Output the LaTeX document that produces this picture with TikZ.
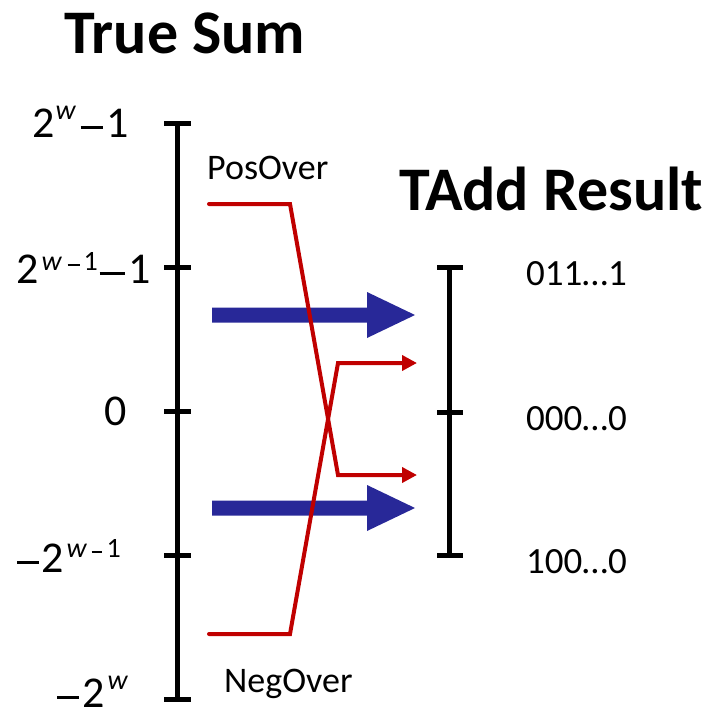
\documentclass[tikz,border=0pt]{standalone}
\usepackage{fontspec}
\setmainfont{Carlito}
\usetikzlibrary{arrows.meta}
\definecolor{arrowblue}{RGB}{40,40,152}
\definecolor{overred}{RGB}{192,0,0}
\newcommand{\supx}[2]{\raisebox{#1}{\fontsize{28}{28}\selectfont #2}}
\newcommand{\mainminus}[1]{\rule[8pt]{#1}{3pt}}
\newcommand{\supminus}[1]{\rule[4pt]{#1}{2.2pt}}
\begin{document}
\begin{tikzpicture}[x=1pt,y=-1pt,
  axisline/.style={line width=5pt, black},
  ticktxt/.style={anchor=base west, inner sep=0pt, font=\fontsize{44}{50}\selectfont},
  codetxt/.style={anchor=base west, inner sep=0pt, font=\fontsize{37}{40}\selectfont},
  titletxt/.style={anchor=base west, inner sep=0pt, font=\fontsize{62}{70}\selectfont\bfseries},
  overtxt/.style={anchor=base west, inner sep=0pt, font=\fontsize{36}{40}\selectfont},
  redline/.style={line width=4pt, overred, line cap=round, line join=miter, -{Triangle[length=15pt,width=15pt]}},
  bigarrow/.style={fill=arrowblue}]
\useasboundingbox (0,0) rectangle (718,715);
% titles
\node[titletxt] (t1) at (64,53) {True Sum};
\node[titletxt] (t2) at (399,210) {TAdd Result};
% left axis
\draw[axisline] (177,123) -- (177,699);
\foreach \yy in {123,267,411,555,699}{\draw[axisline] (164,\yy) -- (191,\yy);}
% right axis
\draw[axisline] (449,267) -- (449,555);
\foreach \yy in {267,412,555}{\draw[axisline] (437,\yy) -- (463,\yy);}
% left labels
\node[ticktxt] (l1) at (32,137) {2\hspace{1pt}\supx{18pt}{\itshape w}\hspace{5pt}\mainminus{22pt}\hspace{4pt}1};
\node[ticktxt] (l2) at (16,283) {2\hspace{3pt}\supx{13pt}{\itshape w\hspace{6pt}\upshape\supminus{12pt}\hspace{4pt}1}\hspace{2pt}\mainminus{25pt}\hspace{4pt}1};
\node[ticktxt] (l3) at (104,425) {0};
\node[ticktxt] (l4) at (17,572) {\mainminus{22pt}\hspace{2pt}2\hspace{3pt}\supx{15pt}{\itshape w\hspace{5pt}\upshape\supminus{10pt}\hspace{5pt}1}};
\node[ticktxt] (l5) at (57,707) {\mainminus{22pt}\hspace{3pt}2\hspace{3pt}\supx{18pt}{\itshape w}};
% right labels
\node[codetxt] (r1) at (526,285) {011…1};
\node[codetxt] (r2) at (526,430) {000…0};
\node[codetxt] (r3) at (526,573) {100…0};
% overflow labels
\node[overtxt] (pos) at (207,179) {PosOver};
\node[overtxt] (neg) at (224,692) {NegOver};
% blue arrows
\fill[bigarrow] (212,307.5) -- (367,307.5) -- (367,292) -- (415,315) -- (367,338) -- (367,322.5) -- (212,322.5) -- cycle;
\fill[bigarrow] (212,500.5) -- (367,500.5) -- (367,485) -- (415,508) -- (367,531) -- (367,515.5) -- (212,515.5) -- cycle;
% red overflow lines
\coordinate (p0) at (209,204);
\coordinate (p1) at (290,204);
\coordinate (p2) at (338,475);
\coordinate (p3) at (417,475);
\coordinate (n0) at (209,634);
\coordinate (n1) at (290,634);
\coordinate (n2) at (338,363);
\coordinate (n3) at (417,363);
\draw[redline] (p0) -- (p1) -- (p2) -- (p3);
\draw[redline] (n0) -- (n1) -- (n2) -- (n3);
\end{tikzpicture}
\end{document}
